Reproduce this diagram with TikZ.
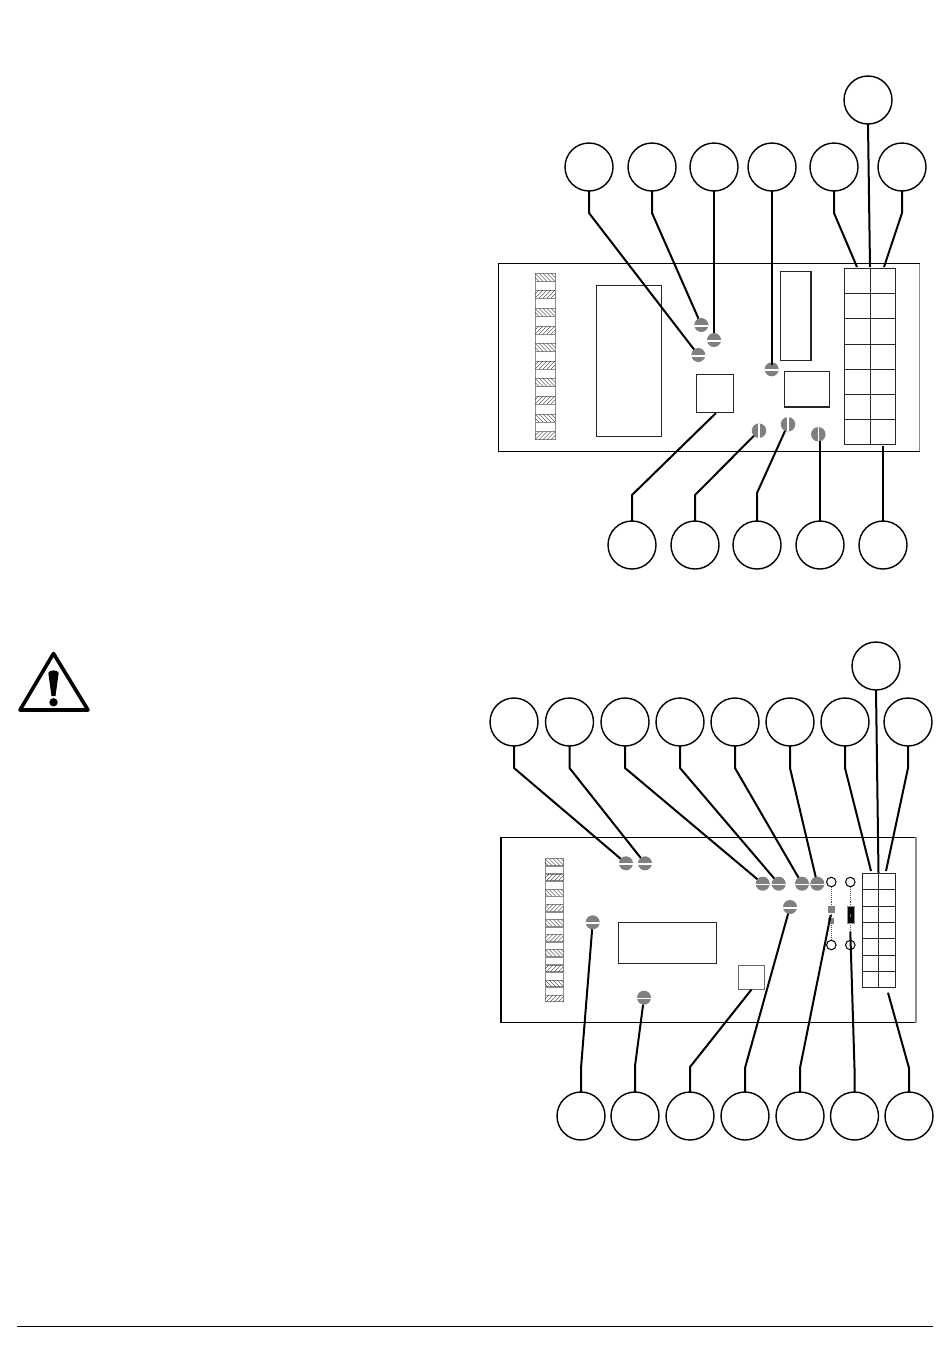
\documentclass[tikz,border=0pt]{standalone}
\definecolor{scr}{gray}{0.5}
\definecolor{edge}{gray}{0.55}
\tikzset{
  x=1pt,y=-1pt,
  callout/.style={circle,draw=black,line width=1.4pt,fill=white,minimum size=48pt,inner sep=0pt,outer sep=0pt},
  leader/.style={line width=2pt,line join=round},
  screwh/.style={circle,fill=scr,minimum size=14pt,inner sep=0pt,outer sep=0pt,path picture={\fill[white] (-8,-0.1) rectangle (8,1.5);}},
  screwv/.style={circle,fill=scr,minimum size=14.5pt,inner sep=0pt,outer sep=0pt,path picture={\fill[white] (-0.8,-8) rectangle (0.8,8);}},
  pin/.style={circle,draw=black,line width=1pt,fill=white,minimum size=9.5pt,inner sep=0pt},
  board/.style={draw=black,line width=1.1pt},
  part/.style={draw=black!85,line width=1.1pt},
  grid/.style={draw=black!85,line width=1pt},
  dots/.style={line width=0.9pt,densely dotted,draw=black!70},
}
% #1 x-left, #2 y-top, #3 width, #4 height, #5 slope sign
\newcommand{\hatchseg}[5]{%
  \begin{scope}
    \draw[edge,line width=0.7pt,fill=white] (#1,#2) rectangle ++(#3,#4);
    \clip (#1,#2) rectangle ++(#3,#4);
    \foreach \k in {-12,-8,...,32}
      \draw[black!80,line width=0.35pt] ({#1+\k},#2) -- ({#1+\k+#5*#4},{#2+#4});
  \end{scope}}
\begin{document}
\begin{tikzpicture}
\useasboundingbox (0,0) rectangle (950,1369);
\fill[white] (0,0) rectangle (950,1369);

% ---------- upper board ----------
\draw[board] (919.5,263.5) -- (498.5,263.5) -- (498.5,451.3) -- (919.5,451.3);
\draw[edge,line width=1.1pt] (919.5,263.5) -- (919.5,451.3);
\draw[edge,line width=0.7pt] (535,273) rectangle (555.5,439.5);
\foreach \y/\s in {273.3/1,290/-1,308.3/1,326/-1,343.3/1,361/-1,378.3/1,396/-1,414/1,431.7/-1}
  {\hatchseg{535}{\y}{20.5}{8}{\s}}
\draw[part] (596.7,285.7) rectangle (661.7,436.2);
\node[draw=black!85,line width=1.1pt,minimum width=37pt,minimum height=38pt,inner sep=0pt,outer sep=0pt] (usq) at (715,393.3) {};
\draw[part] (780.7,271.7) rectangle (811,360.3);
\draw[part] (784.3,371.7) rectangle (829.8,407);
\draw[grid] (844.8,268.3) rectangle (895.3,444.3);
\draw[grid] (870,268.3) -- (870,444.3);
\foreach \y in {293.7,318.7,344,369,394,419.3}
  \draw[grid] (844.8,\y) -- (895.3,\y);

\node[screwh] (a1) at (698.3,355) {};
\node[screwh] (a2) at (701.3,325) {};
\node[screwh] (a3) at (714,340) {};
\node[screwh] (a4) at (771.7,369.3) {};
\node[screwv] (a5) at (759,430.7) {};
\node[screwv] (a6) at (788,424.3) {};
\node[screwv] (a7) at (818.3,434.3) {};

\node[callout] (t1) at (589,167) {};
\node[callout] (t2) at (652,167) {};
\node[callout] (t3) at (714,167) {};
\node[callout] (t4) at (772,167) {};
\node[callout] (t5) at (834,167) {};
\node[callout] (t6) at (902,167) {};
\node[callout] (t7) at (868,100) {};
\node[callout] (b1) at (632,545) {};
\node[callout] (b2) at (695,545) {};
\node[callout] (b3) at (757,545) {};
\node[callout] (b4) at (820,545) {};
\node[callout] (b5) at (883,545) {};

\coordinate (e1) at (857,267);
\coordinate (e2) at (870,267);
\coordinate (e3) at (884,267);
\coordinate (e4) at (716,413);
\coordinate (e5) at (883,446);
\coordinate (e6) at (772,365);
\coordinate (e7) at (820,441);

\draw[leader] (t1.south) -- ++(0,22) -- (a1);
\draw[leader] (t2.south) -- ++(0,22) -- (a2);
\draw[leader] (t3.south) -- (a3);
\draw[leader] (t4.south) -- (e6);
\draw[leader] (t5.south) -- ++(0,22) -- (e1);
\draw[leader] (t6.south) -- ++(0,22) -- (e3);
\draw[leader] (t7.south) -- (e2);
\draw[leader] (b1.north) -- ++(0,-26) -- (e4);
\draw[leader] (b2.north) -- ++(0,-26) -- (a5);
\draw[leader] (b3.north) -- ++(0,-28) -- (a6);
\draw[leader] (b4.north) -- (e7);
\draw[leader] (b5.north) -- (e5);

% ---------- warning sign ----------
\draw[black,line width=3.6pt,line join=round] (53.5,653.5) -- (20,710) -- (88,710) -- cycle;
\fill[black] (48.3,673) .. controls (48.5,669.5) and (58.5,669.5) .. (58.7,673) -- (55.5,696) -- (51.5,696) -- cycle;
\fill[black] (53.5,702.3) circle (4.2);

% ---------- lower board ----------
\draw[board] (916,837.3) -- (501,837.3) -- (501,1022.7) -- (916,1022.7);
\draw[edge,line width=1.1pt] (916,837.3) -- (916,1022.7);
\foreach \y in {866,881.5,896.5,912,927,942,957,972.5,987.5}
  \draw[edge,line width=0.5pt] (545,\y) rectangle (563.7,{\y+7.5});
\foreach \y/\s in {858.7/1,874/-1,889.3/1,904.3/-1,919.3/1,934.3/-1,949.3/1,965/-1,980/1,995/-1}
  {\hatchseg{545}{\y}{18.7}{6.7}{\s}}
\draw[part] (618.7,922.3) rectangle (716.7,963.3);
\node[draw=black!60,line width=1.1pt,minimum width=25.7pt,minimum height=23.7pt,inner sep=0pt,outer sep=0pt] (lsq) at (751.2,977.2) {};
\draw[grid] (862.3,873.3) rectangle (895.7,987.3);
\draw[grid] (878.7,873.3) -- (878.7,987.3);
\foreach \y in {889.7,906.3,922.3,938.7,955,971.7}
  \draw[grid] (862.3,\y) -- (895.7,\y);

\node[screwh] (c1) at (626,863.3) {};
\node[screwh] (c2) at (645,863.3) {};
\node[screwh] (c3) at (762.7,883.7) {};
\node[screwh] (c4) at (778.7,883.7) {};
\node[screwh] (c5) at (802,883.7) {};
\node[screwh] (c6) at (817.3,883.7) {};
\node[screwh] (c7) at (790,907) {};
\node[screwh] (c8) at (592.7,922.3) {};
\node[screwh] (c9) at (644,997.7) {};

\node[pin] (p1) at (831.3,882) {};
\node[pin] (p2) at (850.3,882) {};
\node[pin] (p3) at (831.3,945) {};
\node[pin] (p4) at (850.3,945) {};
\draw[dots] (p1) -- (p3);
\draw[dots] (p2) -- (p4);
\node[fill=scr,minimum size=7pt,inner sep=0pt,outer sep=0pt] (f1) at (831.3,909.3) {};
\node[fill=scr,minimum size=6pt,inner sep=0pt,outer sep=0pt] (f2) at (831.3,920.5) {};
\node[fill=black,draw=edge,line width=0.7pt,minimum width=7pt,minimum height=17pt,inner sep=0pt,outer sep=0pt] (f3) at (850.7,915) {};
\fill[gray] (850,913.5) rectangle (851.4,916.5);

\node[callout] (u1) at (514,722) {};
\node[callout] (u2) at (569.5,722) {};
\node[callout] (u3) at (625,722) {};
\node[callout] (u4) at (680,722) {};
\node[callout] (u5) at (735,722) {};
\node[callout] (u6) at (790,722) {};
\node[callout] (u7) at (845,722) {};
\node[callout] (u8) at (908,722) {};
\node[callout] (u9) at (876,666) {};
\node[callout] (d1) at (581,1116) {};
\node[callout] (d2) at (635,1116) {};
\node[callout] (d3) at (690,1116) {};
\node[callout] (d4) at (745,1116) {};
\node[callout] (d5) at (800,1116) {};
\node[callout] (d6) at (854.5,1116) {};
\node[callout] (d7) at (909,1116) {};

\coordinate (g1) at (871,871);
\coordinate (g2) at (878.5,873);
\coordinate (g3) at (886,871);
\coordinate (g4) at (751.5,989.5);
\coordinate (g5) at (830.7,915);
\coordinate (g6) at (850.3,931.7);
\coordinate (g7) at (888,992.7);

\draw[leader] (u1.south) -- ++(0,22) -- (c1);
\draw[leader] (u2.south) -- ++(0,22) -- (c2);
\draw[leader] (u3.south) -- ++(0,22) -- (c3);
\draw[leader] (u4.south) -- ++(0,22) -- (c4);
\draw[leader] (u5.south) -- ++(0,22) -- (c5);
\draw[leader] (u6.south) -- ++(0,22) -- (c6);
\draw[leader] (u7.south) -- ++(0,22) -- (g1);
\draw[leader] (u8.south) -- ++(0,22) -- (g3);
\draw[leader] (u9.south) -- (g2);
\draw[leader] (d1.north) -- ++(0,-24) -- (c8);
\draw[leader] (d2.north) -- ++(0,-26) -- (c9);
\draw[leader] (d3.north) -- ++(0,-25) -- (g4);
\draw[leader] (d4.north) -- ++(0,-24) -- (c7);
\draw[leader] (d5.north) -- ++(0,-24) -- (g5);
\draw[leader] (d6.north) -- ++(0,-24) -- (g6);
\draw[leader] (d7.north) -- ++(0,-24) -- (g7);

% ---------- page rule ----------
\draw[black,line width=0.8pt] (17,1326.5) -- (933,1326.5);
\end{tikzpicture}
\end{document}
